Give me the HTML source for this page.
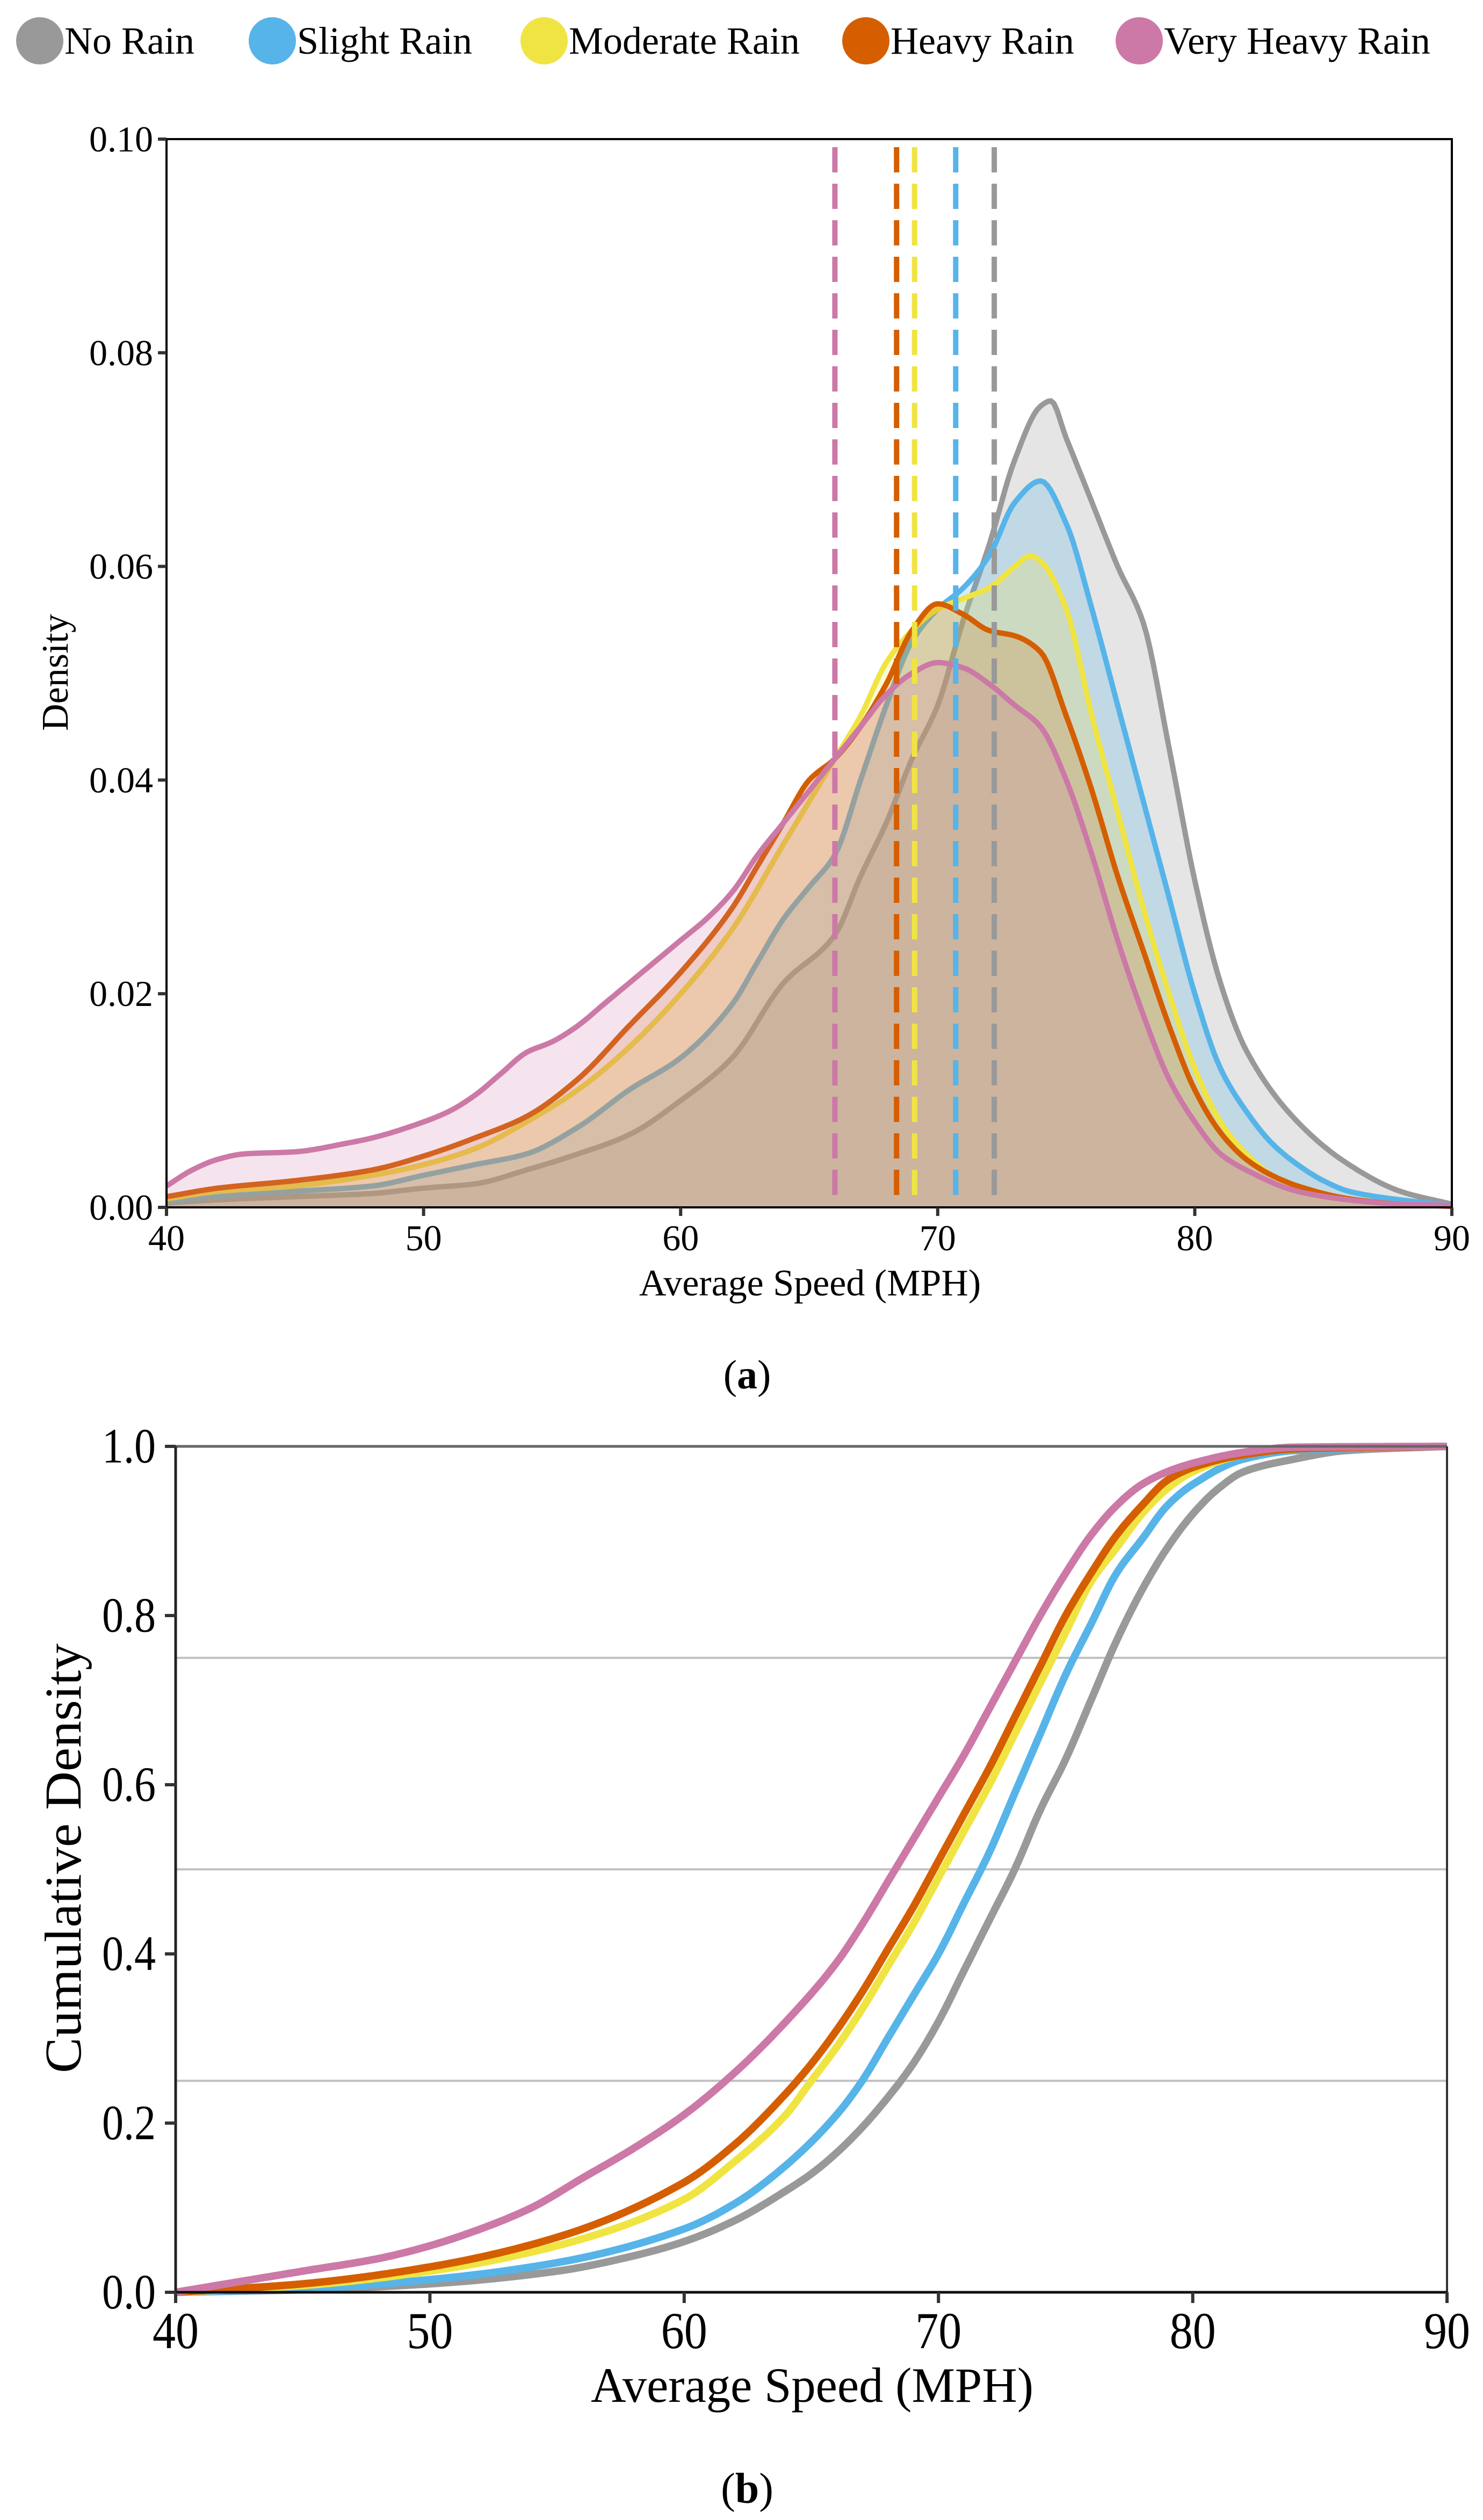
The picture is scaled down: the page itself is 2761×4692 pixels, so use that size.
<!DOCTYPE html>
<html><head><meta charset="utf-8"><style>
html,body{margin:0;padding:0;background:#fff}
svg{display:block}
text{font-family:"Liberation Serif",serif;fill:#000}
</style></head><body>
<svg id="fig" width="2761" height="4692" viewBox="0 0 2761 4692" xmlns="http://www.w3.org/2000/svg">
<g id="legend"></g>
<g id="chartA"></g>
<g id="chartB"></g>
</svg>
<script>
// ---- series metadata ----
const seriesNames = ["No Rain","Slight Rain","Moderate Rain","Heavy Rain","Very Heavy Rain"];
const seriesColors = ["#999999","#56B4E9","#F0E442","#D55E00","#CC79A7"];
const meanSpeeds = [72.2, 70.7, 69.1, 68.4, 66.0];

// ---- density chart data (a) ----
const densXTicks = [40,50,60,70,80,90];
const densYTicks = [0,0.02,0.04,0.06,0.08,0.10];
const densYTickLabels = ["0.00","0.02","0.04","0.06","0.08","0.10"];
const noRainX = [40,42,45,48,50,52,54,56,58,60,62,64,66,67,68,69,70,71,72,73,74,74.4,75,76,77,78,79,80,81,82,84,86,88,90];
const noRainY = [0.0004,0.0007,0.001,0.0013,0.0018,0.0022,0.0035,0.005,0.0068,0.010,0.014,0.021,0.0255,0.031,0.036,0.042,0.047,0.055,0.062,0.070,0.075,0.0755,0.072,0.066,0.060,0.0547,0.043,0.0306,0.021,0.0147,0.008,0.004,0.0015,0.0003];
const slightX = [40,42,45,48,50,52,54,56,58,60,62,63,64,65,66,67,68,69,70,71,72,73,74,75,76,77,78,79,80,81,82,83,84,85,86,88,90];
const slightY = [0.0005,0.001,0.0015,0.002,0.003,0.004,0.005,0.0075,0.011,0.014,0.019,0.023,0.027,0.030,0.033,0.040,0.047,0.053,0.056,0.058,0.061,0.066,0.068,0.064,0.056,0.047,0.038,0.029,0.020,0.013,0.009,0.006,0.004,0.0025,0.0015,0.0007,0.0002];
const moderateX = [40,42,45,48,50,52,54,56,58,60,62,64,65,66,67,68,69,70,71,72,73,73.6,74,75,76,77,78,79,80,81,82,83,84,86,88,90];
const moderateY = [0.0008,0.0015,0.002,0.003,0.004,0.0055,0.008,0.011,0.015,0.020,0.026,0.034,0.038,0.042,0.046,0.051,0.054,0.056,0.057,0.058,0.060,0.061,0.0605,0.056,0.046,0.037,0.028,0.020,0.013,0.008,0.005,0.003,0.002,0.0008,0.0003,0.0001];
const heavyX = [40,42,45,48,50,52,54,56,58,60,62,63,64,65,66,67,68,69,70,71,72,73,74,75,76,77,78,79,80,81,82,83,84,86,88,90];
const heavyY = [0.001,0.0018,0.0025,0.0035,0.0048,0.0065,0.0085,0.012,0.017,0.022,0.028,0.032,0.036,0.040,0.042,0.045,0.049,0.054,0.0565,0.0555,0.054,0.0535,0.052,0.046,0.039,0.031,0.024,0.017,0.011,0.007,0.0045,0.003,0.002,0.0008,0.0003,0.0001];
const veryHeavyX = [40,41,42,43,45,47,48,50,51,52,53,54,55,56,57,58,59,60,61,62,63,64,65,66,67,68,69,70,71,72,73,74,75,76,77,78,79,80,81,82,84,86,88,90];
const veryHeavyY = [0.002,0.0035,0.0045,0.005,0.0052,0.006,0.0065,0.008,0.009,0.0105,0.0125,0.0145,0.0155,0.017,0.019,0.021,0.023,0.025,0.027,0.0295,0.033,0.036,0.039,0.042,0.045,0.048,0.050,0.051,0.0505,0.049,0.047,0.045,0.040,0.033,0.025,0.018,0.012,0.008,0.005,0.0035,0.0015,0.0007,0.0003,0.0002];

// ---- CDF chart data (b) ----
const cdfXTicks = [40,50,60,70,80,90];
const cdfYTicks = [0,0.2,0.4,0.6,0.8,1.0];
const cdfYTickLabels = ["0.0","0.2","0.4","0.6","0.8","1.0"];
const cdfRefLines = [0.25,0.5,0.75];
const cdfNoRainX = [40,45,50,55,58,60,62,64,65,66,67,68,69,70,71,72,73,74,75,76,77,78,79,80,81,82,84,86,90];
const cdfNoRainY = [0,0.003,0.01,0.025,0.043,0.06,0.085,0.12,0.14,0.165,0.195,0.23,0.27,0.32,0.38,0.44,0.50,0.57,0.63,0.70,0.77,0.83,0.88,0.92,0.95,0.97,0.985,0.995,1];
const cdfSlightX = [40,45,50,55,60,62,64,66,67,68,69,70,71,72,73,74,75,76,77,78,79,80,82,84,90];
const cdfSlightY = [0,0.004,0.015,0.035,0.075,0.105,0.15,0.21,0.25,0.30,0.35,0.40,0.46,0.52,0.59,0.66,0.73,0.79,0.85,0.89,0.93,0.955,0.985,0.995,1];
const cdfModerateX = [40,45,50,55,60,62,64,65,66,67,68,69,70,71,72,73,74,75,76,77,78,79,80,82,84,90];
const cdfModerateY = [0,0.008,0.025,0.055,0.11,0.155,0.21,0.25,0.29,0.335,0.385,0.435,0.49,0.545,0.60,0.66,0.72,0.78,0.84,0.88,0.92,0.95,0.97,0.99,0.997,1];
const cdfHeavyX = [40,45,50,55,60,62,64,65,66,67,68,69,70,71,72,73,74,75,76,77,78,79,80,82,84,90];
const cdfHeavyY = [0,0.01,0.03,0.065,0.13,0.175,0.235,0.27,0.31,0.355,0.405,0.455,0.51,0.565,0.62,0.68,0.74,0.80,0.85,0.895,0.93,0.96,0.975,0.99,0.997,1];
const cdfVeryHeavyX = [40,42,45,48,50,52,54,56,58,60,62,64,66,67,68,69,70,71,72,73,74,75,76,77,78,79,80,82,84,90];
const cdfVeryHeavyY = [0,0.01,0.025,0.04,0.055,0.075,0.10,0.135,0.17,0.21,0.26,0.32,0.39,0.435,0.485,0.535,0.585,0.635,0.69,0.745,0.80,0.85,0.895,0.93,0.955,0.97,0.98,0.993,0.999,1];

const NS = "http://www.w3.org/2000/svg";
function mk(tag, attrs, parent){const e=document.createElementNS(NS,tag);for(const k in attrs)e.setAttribute(k,attrs[k]);parent.appendChild(e);return e;}
// monotone cubic (Fritsch-Carlson) interpolation, sampled densely
function monoPath(X,Y,xs,ys){
  const n=X.length,h=[],d=[],m=new Array(n);
  for(let i=0;i<n-1;i++){h[i]=X[i+1]-X[i];d[i]=(Y[i+1]-Y[i])/h[i];}
  m[0]=d[0];m[n-1]=d[n-2];
  for(let i=1;i<n-1;i++){
    if(d[i-1]*d[i]<=0)m[i]=0;
    else{const w1=2*h[i]+h[i-1],w2=h[i]+2*h[i-1];m[i]=(w1+w2)/(w1/d[i-1]+w2/d[i]);}
  }
  let s="";
  for(let i=0;i<n-1;i++){
    const steps=Math.max(4,Math.round(h[i]*8));
    for(let k=(i===0?0:1);k<=steps;k++){
      const t=k/steps,t2=t*t,t3=t2*t;
      const y=(2*t3-3*t2+1)*Y[i]+(t3-2*t2+t)*h[i]*m[i]+(-2*t3+3*t2)*Y[i+1]+(t3-t2)*h[i]*m[i+1];
      const x=X[i]+t*h[i];
      s+=(s?"L":"M")+xs(x).toFixed(1)+","+ys(y).toFixed(1);
    }
  }
  return s;
}

// ---- legend ----
const legend=document.getElementById("legend");
const legCx=[74,507,1013,1612,2121];
seriesNames.forEach((n,i)=>{
  const g=mk("g",{},legend);
  
  
  mk("circle",{cx:legCx[i],cy:76,r:44,fill:seriesColors[i]},g);
  const t=mk("text",{x:legCx[i]+46,y:100,"font-size":72},g);
  t.textContent=n;
});

// ---- chart A ----
(function(){
  const g=document.getElementById("chartA");
  const L=310,R=2703,T=259,B=2248;
  const xs=v=>L+(v-40)/50*(R-L);
  const ys=v=>B-(v/0.10)*(B-T);
  const sx=[noRainX,slightX,moderateX,heavyX,veryHeavyX];
  const sy=[noRainY,slightY,moderateY,heavyY,veryHeavyY];
  const op=[0.25,0.25,0.22,0.18,0.2];
  for(let i=0;i<5;i++){
    const line=monoPath(sx[i],sy[i],xs,ys);
    const area=mk("path",{d:line+"L"+xs(sx[i][sx[i].length-1])+","+B+"L"+xs(sx[i][0])+","+B+"Z",fill:seriesColors[i],"fill-opacity":op[i],stroke:"none"},g);
    
    
    const p=mk("path",{d:line,fill:"none",stroke:seriesColors[i],"stroke-width":10,"stroke-linejoin":"round"},g);
    
    
  }
  const dl=mk("g",{},g);
  
  
  meanSpeeds.forEach((m,i)=>{
    const l=mk("line",{x1:xs(m),x2:xs(m),y1:274,y2:B,stroke:seriesColors[i],"stroke-width":10,"stroke-dasharray":"47 21"},dl);
    
    
  });
  const fr=mk("rect",{x:L,y:T,width:R-L,height:B-T,fill:"none",stroke:"#000","stroke-width":4},g);
  
  
  densYTicks.forEach((v,i)=>{
    mk("line",{x1:L-16,x2:L,y1:ys(v),y2:ys(v),stroke:"#333","stroke-width":6},g);
    const t=mk("text",{x:285,y:ys(v)+23,"font-size":68,"text-anchor":"end"},g);
    
    
    t.textContent=densYTickLabels[i];
  });
  densXTicks.forEach(v=>{
    mk("line",{x1:xs(v),x2:xs(v),y1:B,y2:B+16,stroke:"#333","stroke-width":6},g);
    const t=mk("text",{x:xs(v),y:2328,"font-size":68,"text-anchor":"middle"},g);
    
    
    t.textContent=v;
  });
  const xt=mk("text",{x:1508,y:2412,"font-size":70,"text-anchor":"middle"},g);
  
  
  xt.textContent="Average Speed (MPH)";
  const yt=mk("text",{x:0,y:0,"font-size":70,"text-anchor":"middle",transform:"translate(126,1252) rotate(-90)"},g);
  
  
  yt.textContent="Density";
  const cap=mk("text",{x:1391,y:2585,"font-size":76,"text-anchor":"middle"},g);
  
  
  cap.innerHTML='(<tspan font-weight="bold">a</tspan>)';
})();

// ---- chart B ----
(function(){
  const g=document.getElementById("chartB");
  const L=327,R=2694,T=2693,B=4268;
  const xs=v=>L+(v-40)/50*(R-L);
  const ys=v=>B-v*(B-T);
  cdfRefLines.forEach(v=>{
    const l=mk("line",{x1:L,x2:R,y1:ys(v),y2:ys(v),stroke:"#c0c0c0","stroke-width":4},g);
    
    
  });
  const sx=[cdfNoRainX,cdfSlightX,cdfModerateX,cdfHeavyX,cdfVeryHeavyX];
  const sy=[cdfNoRainY,cdfSlightY,cdfModerateY,cdfHeavyY,cdfVeryHeavyY];
  for(let i=0;i<5;i++){
    const p=mk("path",{d:monoPath(sx[i],sy[i],xs,ys),fill:"none",stroke:seriesColors[i],"stroke-width":14,"stroke-linejoin":"round"},g);
    
    
  }
  mk("line",{x1:L,x2:R,y1:T,y2:T,stroke:"#666","stroke-width":5},g);
  mk("line",{x1:R,x2:R,y1:T,y2:B,stroke:"#333","stroke-width":4},g);
  mk("line",{x1:L,x2:L,y1:T,y2:B,stroke:"#222","stroke-width":5},g);
  mk("line",{x1:L,x2:R,y1:B,y2:B,stroke:"#111","stroke-width":5},g);
  cdfYTicks.forEach((v,i)=>{
    mk("line",{x1:L-20,x2:L,y1:ys(v),y2:ys(v),stroke:"#333","stroke-width":6},g);
    const t=mk("text",{x:290,y:ys(v)+30,"font-size":92,"text-anchor":"end",textLength:100,lengthAdjust:"spacingAndGlyphs"},g);
    
    
    t.textContent=cdfYTickLabels[i];
  });
  cdfXTicks.forEach(v=>{
    mk("line",{x1:xs(v),x2:xs(v),y1:B,y2:B+20,stroke:"#333","stroke-width":6},g);
    const t=mk("text",{x:xs(v),y:4372,"font-size":96,"text-anchor":"middle",textLength:86,lengthAdjust:"spacingAndGlyphs"},g);
    
    
    t.textContent=v;
  });
  const xt=mk("text",{x:1512,y:4472,"font-size":92,"text-anchor":"middle",textLength:824,lengthAdjust:"spacingAndGlyphs"},g);
  
  
  xt.textContent="Average Speed (MPH)";
  const yt=mk("text",{x:0,y:0,"font-size":96,"text-anchor":"middle",textLength:800,lengthAdjust:"spacingAndGlyphs",transform:"translate(150,3460) rotate(-90)"},g);
  
  
  yt.textContent="Cumulative Density";
  const cap=mk("text",{x:1391,y:4660,"font-size":80,"text-anchor":"middle"},g);
  
  
  cap.innerHTML='(<tspan font-weight="bold">b</tspan>)';
})();
</script>
</body></html>
